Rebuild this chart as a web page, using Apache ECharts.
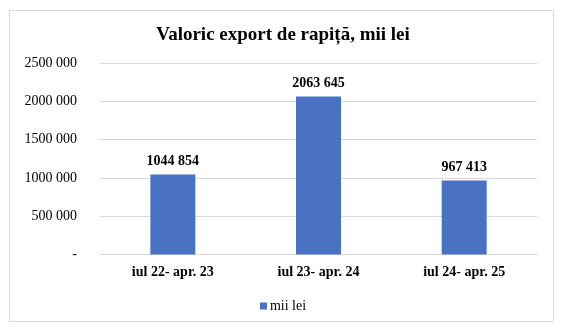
<!DOCTYPE html>
<html>
<head>
<meta charset="utf-8">
<script src="https://cdn.jsdelivr.net/npm/echarts@6/dist/echarts.min.js"></script>
<style>
  html, body { margin: 0; padding: 0; background: #fff; }
  #chart { width: 566px; height: 332px; }
</style>
</head>
<body>
<div id="chart"></div>
<script>
// Periods and exported rapeseed value (thousand lei)
const periods = ['iul 22- apr. 23', 'iul 23- apr. 24', 'iul 24- apr. 25'];
const exportValues = [1044854, 2063645, 967413];
const seriesName = 'mii lei';
const yTicks = [0, 500000, 1000000, 1500000, 2000000, 2500000];

// "2063 645" style: only the last group is separated
function fmt(v) {
  if (v === 0) return '-';
  const th = Math.floor(v / 1000);
  const rest = Math.round(v % 1000);
  return th + ' ' + String(rest).padStart(3, '0');
}

const serif = '"Liberation Serif", "Times New Roman", serif';
const chart = echarts.init(document.getElementById('chart'));

chart.setOption({
  backgroundColor: '#ffffff',
  animation: false,
  textStyle: { fontFamily: serif },
  graphic: [{
    type: 'rect',
    shape: { x: 9.5, y: 10.5, width: 544, height: 311 },
    style: { fill: 'none', stroke: '#d9d9d9', lineWidth: 1 },
    silent: true
  }],
  title: {
    text: 'Valoric export de rapiță, mii lei',
    left: 'center',
    top: 21,
    textStyle: { fontFamily: serif, fontWeight: 'bold', fontSize: 19, color: '#000' }
  },
  grid: { left: 100, right: 29, top: 63, bottom: 77.5, containLabel: false },
  legend: {
    top: 294,
    left: 'center',
    itemWidth: 7,
    itemHeight: 7,
    itemGap: 4,
    icon: 'rect',
    textStyle: { fontFamily: serif, fontSize: 14, color: '#000', padding: [0, 0, 0, -2] },
    data: [seriesName]
  },
  xAxis: {
    type: 'category',
    data: periods,
    axisLine: { lineStyle: { color: '#d9d9d9', width: 1 } },
    axisTick: { show: false },
    axisLabel: { fontFamily: serif, fontWeight: 'bold', fontSize: 14, color: '#000', margin: 11 }
  },
  yAxis: {
    type: 'value',
    min: yTicks[0],
    max: yTicks[yTicks.length - 1],
    interval: yTicks[1] - yTicks[0],
    axisLine: { show: false },
    axisTick: { show: false },
    splitLine: { lineStyle: { color: '#d9d9d9', width: 1 } },
    axisLabel: { fontFamily: serif, fontSize: 14, color: '#000', margin: 23, formatter: fmt }
  },
  series: [{
    name: seriesName,
    type: 'bar',
    data: exportValues,
    barWidth: 45,
    itemStyle: { color: '#4A72C4' },
    label: {
      show: true,
      position: 'top',
      distance: 6,
      fontFamily: serif,
      fontWeight: 'bold',
      fontSize: 14,
      color: '#000',
      formatter: p => fmt(p.value)
    }
  }]
});
</script>
</body>
</html>
